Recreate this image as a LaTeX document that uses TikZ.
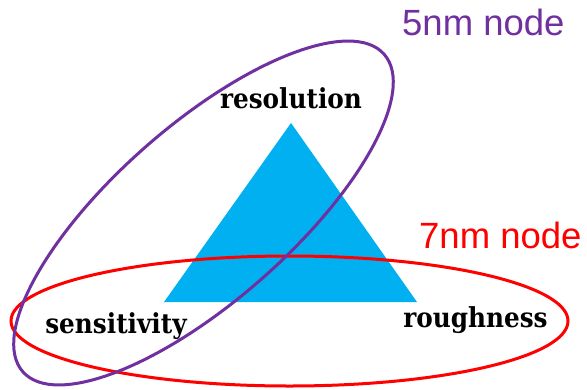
\documentclass[tikz,border=0pt]{standalone}
\usepackage{fontspec}
\newfontfamily\labelsans{Liberation Sans}
\newfontfamily\cornerserif{DejaVu Serif Condensed}
\definecolor{triblue}{HTML}{00B0F0}
\definecolor{fivepurple}{HTML}{7030A0}
\definecolor{sevenred}{HTML}{FF0000}
\begin{document}
\begin{tikzpicture}[x=1pt,y=-1pt,
  corner/.style={font=\cornerserif\bfseries\fontsize{27.5}{30}\selectfont, text=black, anchor=base, inner sep=0pt},
  nodelabel/.style={font=\labelsans\fontsize{36.5}{40}\selectfont, anchor=base west, inner sep=0pt},
  ring/.style={line width=3pt}]
\useasboundingbox (0,0) rectangle (587,389);
% triangle
\coordinate (apex) at (291,123);
\coordinate (bl) at (164,302);
\coordinate (br) at (417,302);
\fill[triblue] (apex) -- (bl) -- (br) -- cycle;
% ellipses
\coordinate (redc) at (289.5,321);
\coordinate (purc) at (203.5,213);
\draw[ring, sevenred] (redc) ellipse (278.5 and 65);
\draw[ring, fivepurple, rotate around={41.3:(purc)}] (purc) ellipse (240.5 and 87.9);
% labels
\node[corner] (res) at (291,108.3) {resolution};
\node[corner] (sen) at (116,333) {sensitivity};
\node[corner] (rou) at (475.5,327.3) {roughness};
\node[nodelabel, text=fivepurple] (five) at (402,35) {5nm node};
\node[nodelabel, text=sevenred] (seven) at (419,248) {7nm node};
\end{tikzpicture}
\end{document}
